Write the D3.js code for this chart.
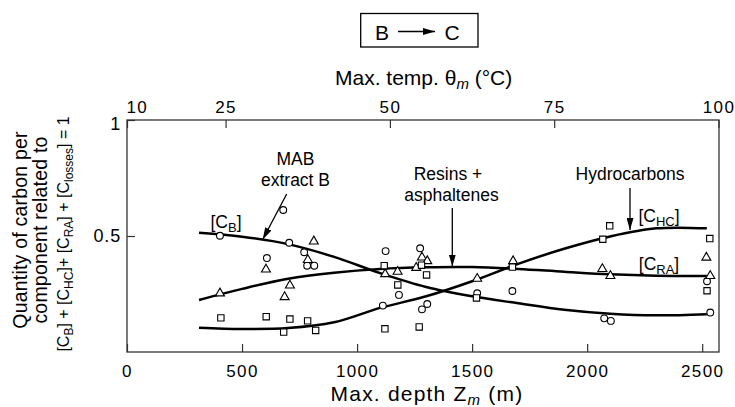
<!DOCTYPE html>
<html>
<head>
<meta charset="utf-8">
<script src="https://cdn.jsdelivr.net/npm/d3@7"></script>
<style>
  html, body { margin: 0; padding: 0; background: #fff; }
  svg { display: block; }
  text { font-family: "Liberation Sans", Arial, Helvetica, sans-serif; fill: #000; }
</style>
</head>
<body>
<svg id="chart" width="735" height="407"></svg>
<script>
// ---------- data ----------
const depthTicks = [0, 500, 1000, 1500, 2000, 2500];
const tempTicks = [10, 25, 50, 75, 100];
const yTicks = [0.5, 1];

// [C_B] MAB extract B (circles)
const depthsB = [404, 679, 705, 770, 608, 783, 814, 1124, 1274, 1182, 1112, 1305, 1282, 1522, 1675, 2074, 2103, 2521, 2535];
const valuesB = [0.501, 0.612, 0.471, 0.430, 0.405, 0.372, 0.372, 0.435, 0.447, 0.246, 0.200, 0.207, 0.184, 0.253, 0.263, 0.145, 0.134, 0.305, 0.170];

// [C_RA] resins + asphaltenes (triangles)
const depthsRA = [404, 604, 812, 786, 708, 685, 1122, 1176, 1257, 1282, 1305, 1522, 1678, 2066, 2101, 2518, 2535];
const valuesRA = [0.253, 0.356, 0.477, 0.397, 0.287, 0.237, 0.336, 0.346, 0.363, 0.408, 0.392, 0.316, 0.392, 0.358, 0.328, 0.407, 0.328];

// [C_HC] hydrocarbons (squares)
const depthsHC = [408, 605, 708, 681, 785, 820, 1118, 1280, 1302, 1177, 1121, 1270, 1519, 1675, 2098, 2068, 2533, 2521];
const valuesHC = [0.147, 0.152, 0.142, 0.086, 0.134, 0.093, 0.372, 0.374, 0.332, 0.289, 0.100, 0.108, 0.233, 0.366, 0.544, 0.486, 0.489, 0.264];

// fitted curves
const curveDepths = [313, 500, 700, 900, 1100, 1300, 1500, 1700, 1900, 2100, 2300, 2520];
const curveB  = [0.514, 0.497, 0.465, 0.410, 0.340, 0.280, 0.240, 0.210, 0.182, 0.165, 0.158, 0.163];
const curveRA = [0.224, 0.272, 0.316, 0.342, 0.358, 0.365, 0.366, 0.358, 0.346, 0.335, 0.329, 0.328];
const curveHC = [0.105, 0.099, 0.103, 0.128, 0.190, 0.240, 0.305, 0.380, 0.445, 0.498, 0.533, 0.533];

// ---------- layout ----------
const pLeft = 127, pRight = 719, pTop = 120, pBottom = 352;
const depthMax = 2573;

const svg = d3.select("#chart");
const x = d3.scaleLinear().domain([0, depthMax]).range([pLeft, pRight]);
const xt = d3.scaleLinear().domain([10, 100]).range([pLeft, 718.5]);
const y = d3.scaleLinear().domain([0, 1]).range([pBottom, pTop]);

const axisColor = "#333";

// defs: arrowhead
svg.append("defs").append("marker")
  .attr("id", "ah").attr("markerUnits", "userSpaceOnUse")
  .attr("viewBox", "0 0 12 7").attr("refX", 12).attr("refY", 3.5)
  .attr("markerWidth", 12).attr("markerHeight", 7).attr("orient", "auto")
  .append("path").attr("d", "M0,0 L12,3.5 L0,7 Z").attr("fill", "#000");

// frame
svg.append("rect")
  .attr("x", pLeft).attr("y", pTop)
  .attr("width", pRight - pLeft).attr("height", pBottom - pTop)
  .attr("fill", "none").attr("stroke", axisColor).attr("stroke-width", 1.3);

// bottom axis
const gx = svg.append("g").attr("transform", `translate(0,${pBottom})`)
  .call(d3.axisBottom(x).tickValues(depthTicks).tickSizeInner(-8).tickSizeOuter(0).tickPadding(13).tickFormat(d3.format("d")));
gx.select(".domain").remove();
gx.selectAll("line").attr("stroke", axisColor).attr("stroke-width", 1.2);
gx.selectAll("text").attr("font-size", 17).attr("letter-spacing", 1.4)
  .attr("font-family", '"Liberation Sans", Arial, sans-serif').attr("fill", "#000");

// top axis (temperature)
const gt = svg.append("g").attr("transform", `translate(0,${pTop})`)
  .call(d3.axisTop(xt).tickValues(tempTicks).tickSizeInner(-8).tickSizeOuter(0).tickPadding(7).tickFormat(d3.format("d")));
gt.select(".domain").remove();
gt.selectAll("line").attr("stroke", axisColor).attr("stroke-width", 1.2);
gt.selectAll("text").attr("font-size", 17).attr("letter-spacing", 1.4)
  .attr("font-family", '"Liberation Sans", Arial, sans-serif').attr("fill", "#000");
gt.selectAll(".tick").filter(d => d === 10).select("text").attr("text-anchor", "start").attr("dx", -1);

// left axis
const gy = svg.append("g").attr("transform", `translate(${pLeft},0)`)
  .call(d3.axisLeft(y).tickValues(yTicks).tickSizeInner(-8).tickSizeOuter(0).tickPadding(6).tickFormat(d => d === 1 ? "1" : d3.format(".1f")(d)));
gy.select(".domain").remove();
gy.selectAll("line").attr("stroke", axisColor).attr("stroke-width", 1.2);
gy.selectAll("text").attr("font-size", 18).attr("letter-spacing", 0.8)
  .attr("font-family", '"Liberation Sans", Arial, sans-serif').attr("fill", "#000");
gy.selectAll(".tick").filter(d => d === 1).select("text").attr("dy", "0.55em");

// curves
const line = d3.line().x(d => x(d[0])).y(d => y(d[1])).curve(d3.curveCatmullRom.alpha(0.5));
[curveB, curveRA, curveHC].forEach(vals => {
  svg.append("path")
    .datum(curveDepths.map((d, i) => [d, vals[i]]))
    .attr("d", line).attr("fill", "none").attr("stroke", "#000").attr("stroke-width", 2.5);
});

// markers
function drawMarkers(depths, vals, type, size) {
  const sym = d3.symbol().type(type).size(size);
  svg.append("g").selectAll("path").data(depths.map((d, i) => [d, vals[i]])).join("path")
    .attr("transform", d => `translate(${x(d[0])},${y(d[1])})`)
    .attr("d", sym).attr("fill", "#fff").attr("stroke", "#000").attr("stroke-width", 1.1);
}
drawMarkers(depthsB, valuesB, d3.symbolCircle, 36);
drawMarkers(depthsRA, valuesRA, d3.symbolTriangle, 35);
drawMarkers(depthsHC, valuesHC, d3.symbolSquare, 40);

// annotations
function txt(xp, yp, s, size, anchor) {
  return svg.append("text").attr("x", xp).attr("y", yp).attr("font-size", size)
    .attr("text-anchor", anchor || "middle").text(s);
}
txt(295.5, 165, "MAB", 17.5);
txt(295.5, 186, "extract B", 17.5);
txt(448, 180, "Resins +", 17.5);
txt(451.5, 201, "asphaltenes", 17.5);
txt(630, 180, "Hydrocarbons", 17.5);

function arrow(x1, y1, x2, y2) {
  svg.append("line").attr("x1", x1).attr("y1", y1).attr("x2", x2).attr("y2", y2)
    .attr("stroke", "#000").attr("stroke-width", 1.3).attr("marker-end", "url(#ah)");
}
arrow(286.7, 194, 262.7, 239.5);
arrow(452.3, 208, 452.3, 266.5);
arrow(630, 188, 630, 230);

// bracket labels with subscripts
function conc(xp, yp, sub) {
  const t = svg.append("text").attr("x", xp).attr("y", yp).attr("font-size", 17.5).attr("text-anchor", "middle");
  t.append("tspan").text("[C");
  t.append("tspan").attr("font-size", 13).attr("dy", 4).text(sub);
  t.append("tspan").attr("dy", -4).text("]");
}
conc(226, 228, "B");
conc(659, 221.5, "HC");
conc(659, 270, "RA");

// y-axis title (rotated)
function ytitle(xp, s, size) {
  return svg.append("text").attr("transform", `translate(${xp},230) rotate(-90)`)
    .attr("font-size", size).attr("text-anchor", "middle").attr("letter-spacing", 0.2).text(s);
}
ytitle(27, "Quantity of carbon per", 19.5);
ytitle(47, "component related to", 19.5);
const yt3 = svg.append("text").attr("transform", `translate(69,234) rotate(-90)`)
  .attr("font-size", 16).attr("text-anchor", "middle");
[["[C", null], ["B", "sub"], ["] + [C", null], ["HC", "sub"], ["]+ [C", null], ["RA", "sub"], ["] + [C", null], ["losses", "sub"], ["] = 1", null]]
  .forEach(([s, k], i) => {
    const sp = yt3.append("tspan").text(s);
    if (k === "sub") sp.attr("font-size", 12).attr("dy", 4);
    else if (i > 0) sp.attr("dy", -4);
  });

// axis titles
const tt = svg.append("text").attr("x", 335).attr("y", 85).attr("font-size", 21);
tt.append("tspan").text("Max. temp. θ");
tt.append("tspan").attr("font-size", 15).attr("font-style", "italic").attr("dy", 4).text("m");
tt.append("tspan").attr("dy", -4).text(" (°C)");

const bt = svg.append("text").attr("x", 427).attr("y", 401).attr("font-size", 21)
  .attr("text-anchor", "middle").attr("letter-spacing", 1.2);
bt.append("tspan").text("Max. depth Z");
bt.append("tspan").attr("font-size", 15).attr("font-style", "italic").attr("dy", 4).text("m");
bt.append("tspan").attr("dy", -4).text(" (m)");

// top box "B → C"
svg.append("rect").attr("x", 360.7).attr("y", 13.5).attr("width", 117.3).attr("height", 33.5)
  .attr("fill", "none").attr("stroke", "#000").attr("stroke-width", 1.3);
txt(382, 39.5, "B", 21);
txt(452, 39.5, "C", 21);
svg.append("line").attr("x1", 398).attr("y1", 31.5).attr("x2", 435).attr("y2", 31.5)
  .attr("stroke", "#000").attr("stroke-width", 1.6).attr("marker-end", "url(#ah)");
</script>
</body>
</html>
